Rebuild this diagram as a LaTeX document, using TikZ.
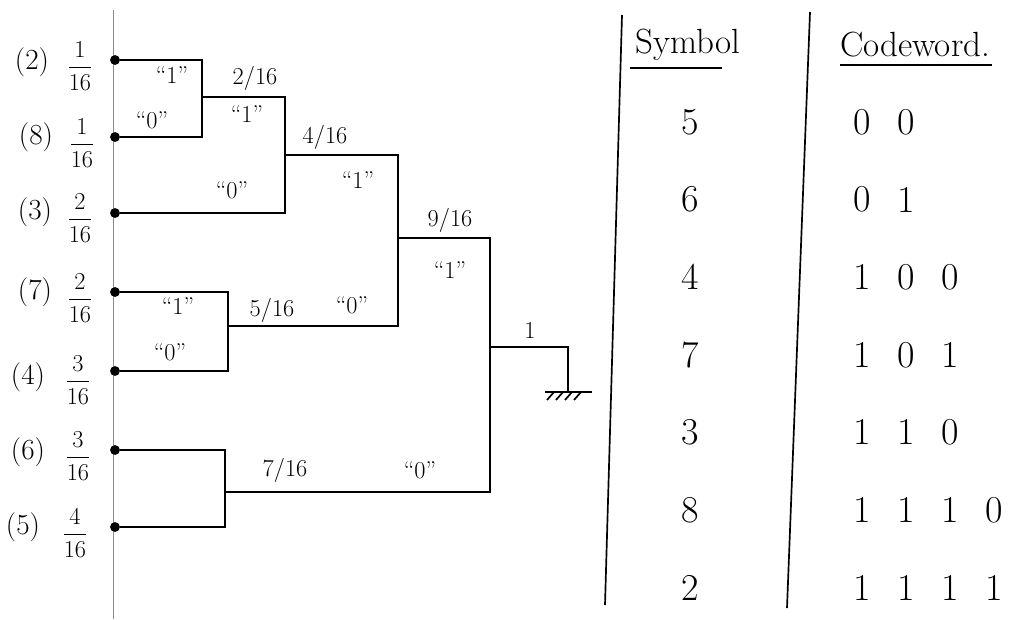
\documentclass[tikz,border=0pt]{standalone}
\usepackage{amsmath}
\usepackage{tikz}
\usetikzlibrary{positioning,calc}

\begin{document}
\begin{tikzpicture}[
    x=0.025cm, y=-0.025cm,
    leaf/.style={circle, fill=black, inner sep=0pt, minimum size=7pt},
    branch/.style={line width=1.5pt, line join=miter},
    guide/.style={line width=0.5pt, color=black!45},
    rule/.style={line width=1.2pt},
    sym/.style={font=\huge, inner sep=1pt},
    prob/.style={font=\LARGE, inner sep=1pt},
    weight/.style={font=\LARGE, inner sep=1pt},
    bit/.style={font=\LARGE, inner sep=1pt},
    head/.style={font=\Huge, inner sep=1pt},
    cell/.style={font=\fontsize{27}{30}\selectfont, inner sep=1pt}
]
\useasboundingbox (0,0) rectangle (1011,619);
% ============================================================
% LEAVES
% ============================================================
\draw[guide] (113,10) -- (113,619);

\node[leaf] (s2) at (115,60)  {};
\node[leaf] (s8) at (115,137) {};
\node[leaf] (s3) at (115,213) {};
\node[leaf] (s7) at (115,292) {};
\node[leaf] (s4) at (115,371) {};
\node[leaf] (s6) at (115,450) {};
\node[leaf] (s5) at (115,527) {};

\node[sym] (l2) at (32,62)  {(2)};  \node[prob] at (80,66)  {$\dfrac{1}{16}$};
\node[sym] (l8) at (36,137) {(8)};  \node[prob] at (82,143) {$\dfrac{1}{16}$};
\node[sym] (l3) at (35,212) {(3)};  \node[prob] at (80,218) {$\dfrac{2}{16}$};
\node[sym] (l7) at (35,292) {(7)};  \node[prob] at (80,298) {$\dfrac{2}{16}$};
\node[sym] (l4) at (28,377) {(4)};  \node[prob] at (78,380) {$\dfrac{3}{16}$};
\node[sym] (l6) at (28,452) {(6)};  \node[prob] at (78,456) {$\dfrac{3}{16}$};
\node[sym] (l5) at (23,527) {(5)};  \node[prob] at (75,533) {$\dfrac{4}{16}$};

% ============================================================
% MERGE POINTS
% ============================================================
\coordinate (n2) at (202,97);
\coordinate (n4) at (285,155);
\coordinate (n5) at (228,326);
\coordinate (n7) at (225,492);
\coordinate (n9) at (398,238);
\coordinate (root) at (490,347);
\coordinate (gnd) at (568,392);

\draw[branch] (s2) -| (n2) |- (s8);
\draw[branch] (n2) -| (n4) |- (s3);
\draw[branch] (s7) -| (n5) |- (s4);
\draw[branch] (s6) -| (n7) |- (s5);
\draw[branch] (n4) -| (n9) |- (n5);
\draw[branch] (n9) -| (root) |- (n7);
\draw[branch] (root) -| (gnd);

% ground
\draw[branch] ($(gnd)+(-23,0)$) -- ($(gnd)+(24,0)$);
\foreach \dx in {-14,-5,4,13}
    \draw[line width=1.2pt] ($(gnd)+(\dx,0)$) -- ($(gnd)+(\dx-7,8)$);

% weights
\node[weight] at (255,78)  {2/16};
\node[weight] at (325,137) {4/16};
\node[weight] at (450,220) {9/16};
\node[weight] at (272,310) {5/16};
\node[weight] at (285,470) {7/16};
\node[weight] at (530,330) {1};

% bits
\node[bit] at (172,75)  {``1''};
\node[bit] at (152,120) {``0''};
\node[bit] at (247,114) {``1''};
\node[bit] at (232,190) {``0''};
\node[bit] at (358,180) {``1''};
\node[bit] at (352,305) {``0''};
\node[bit] at (178,306) {``1''};
\node[bit] at (170,352) {``0''};
\node[bit] at (450,270) {``1''};
\node[bit] at (420,470) {``0''};

% ============================================================
% CODE TABLE
% ============================================================
\draw[rule] (622,15) -- (605,605);
\draw[rule] (810,12) -- (787,608);

\node[head] (hsym)  at (688,45) {Symbol};
\node[head] (hcode) at (915,45) {Codeword.};
\draw[rule] (630,68) -- (722,68);
\draw[rule] (840,65) -- (992,65);

\foreach \s [count=\i] in {5,6,4,7,3,8,2}
    \node[cell] (sym\i) at (690,{122+77.6*(\i-1)}) {\s};

\foreach \code [count=\i] in {{0,0},{0,1},{1,0,0},{1,0,1},{1,1,0},{1,1,1,0},{1,1,1,1}}
    \foreach \b [count=\j] in \code
        \node[cell] at ({862+44*(\j-1)},{122+77.6*(\i-1)}) {\b};

\end{tikzpicture}
\end{document}
